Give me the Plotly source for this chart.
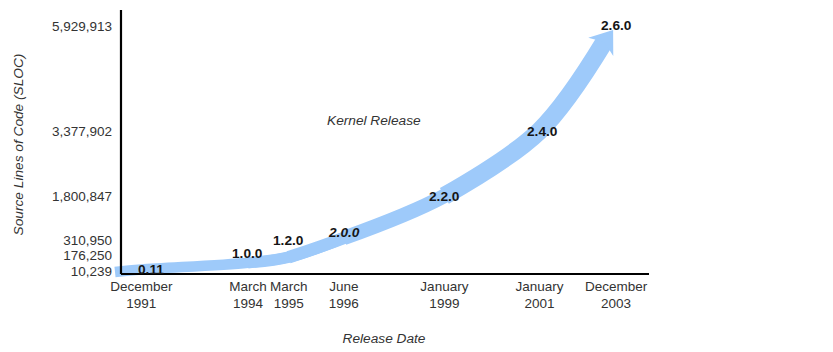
import math
import plotly.graph_objects as go

# ---- data ----
releases = ["0.11", "1.0.0", "1.2.0", "2.0.0", "2.2.0", "2.4.0", "2.6.0"]
release_dates = ["December<br>1991", "March<br>1994", "March<br>1995", "June<br>1996",
                 "January<br>1999", "January<br>2001", "December<br>2003"]
# position of each release date along the (schematic, non-linear) time axis
date_pos = [0.51, 3.18, 4.2, 5.58, 8.1, 10.48, 12.4]
sloc = [10239, 176250, 310950, 777956, 1800847, 3377902, 5929913]

# y tick labels (lowest three are spread apart in the original chart)
y_tick_text = ["10,239", "176,250", "310,950", "1,800,847", "3,377,902", "5,929,913"]
y_tick_pos = [-24000, 364000, 729000, 1800847, 3377902, 5929913]

# arrow tail (starts just left of / below the origin)
tail_x, tail_y = -0.15, -50000

# ---- styling / layout ----
FONT = "Liberation Sans, Arial, sans-serif"
ARROW = "rgb(158,202,250)"
W, H = 833, 352
M_L, M_R, M_T, M_B = 113, 178, 8, 71
X_RANGE = [-0.2, 13.375]
Y_RANGE = [-267190, 6364000]
AXIS_Y = -97160          # where the horizontal axis line sits
AXIS_X = 0.0             # where the vertical axis line sits
AXIS_X_END = 13.225
AXIS_Y_TOP = 6315400
HEAD_LEN, HEAD_HALF, HEAD_NOTCH, HEAD_STANDOFF = 21, 15.5, 15, 5   # px

# pixel scale of the axes (to build the arrow head in screen proportions)
kx = (W - M_L - M_R) / (X_RANGE[1] - X_RANGE[0])
ky = (H - M_T - M_B) / (Y_RANGE[1] - Y_RANGE[0])
px0, py0 = date_pos[-2] * kx, sloc[-2] * ky
px1, py1 = date_pos[-1] * kx, sloc[-1] * ky
seg = math.hypot(px1 - px0, py1 - py0)
ux, uy = (px1 - px0) / seg, (py1 - py0) / seg
nx, ny = -uy, ux
tip_px = (px1 - HEAD_STANDOFF * ux, py1 - HEAD_STANDOFF * uy)


def head_pt(back, side):
    return ((tip_px[0] - back * ux + side * nx) / kx,
            (tip_px[1] - back * uy + side * ny) / ky)


tip = head_pt(0, 0)
c1 = head_pt(HEAD_LEN, HEAD_HALF)
notch = head_pt(HEAD_NOTCH, 0)
c2 = head_pt(HEAD_LEN, -HEAD_HALF)

# shaft runs through every release and ends inside the head
arrow_x = [tail_x] + date_pos[:-1] + [notch[0]]
arrow_y = [tail_y] + sloc[:-1] + [notch[1]]

fig = go.Figure()

# tapered shaft: successively wider layers towards the head
layers = [(0, 10.5), (2, 11.5), (3, 12.5), (4, 14.5), (5, 18)]
for start, w in layers:
    fig.add_trace(go.Scatter(
        x=arrow_x[start:], y=arrow_y[start:], mode="lines",
        line=dict(color=ARROW, width=w, shape="spline"),
        hoverinfo="skip", showlegend=False))

# arrow head
fig.add_shape(type="path", xref="x", yref="y", layer="above",
              path=(f"M {tip[0]},{tip[1]} L {c1[0]},{c1[1]} "
                    f"L {notch[0]},{notch[1]} L {c2[0]},{c2[1]} Z"),
              fillcolor=ARROW, line=dict(width=0))

# release labels
label_shift_x = [10, 0, 0, 0, 0, 3, 0]
label_shift_y = [0, 9, 17, 5, -1, -1, 0]
for i, (r, x, y) in enumerate(zip(releases, date_pos, sloc)):
    txt = f"<b><i>{r}</i></b>" if r == "2.0.0" else f"<b>{r}</b>"
    fig.add_annotation(x=x, y=y, text=txt, showarrow=False,
                       xshift=label_shift_x[i], yshift=label_shift_y[i],
                       font=dict(family=FONT, size=13.7, color="#151515"))

fig.add_annotation(x=0.4815, y=0.5897, xref="paper", yref="paper",
                   text="<i>Kernel Release</i>", showarrow=False,
                   font=dict(family=FONT, size=13.7, color="#333333"))

# axis lines
fig.add_shape(type="line", x0=AXIS_X, x1=AXIS_X, y0=AXIS_Y, y1=AXIS_Y_TOP,
              xref="x", yref="y", line=dict(color="black", width=2.2), layer="above")
fig.add_shape(type="line", x0=AXIS_X, x1=AXIS_X_END, y0=AXIS_Y, y1=AXIS_Y,
              xref="x", yref="y", line=dict(color="black", width=2.2), layer="above")

fig.update_layout(
    width=W, height=H,
    margin=dict(l=M_L, r=M_R, t=M_T, b=M_B),
    paper_bgcolor="white", plot_bgcolor="white",
    font=dict(family=FONT, size=13.5, color="#333333"),
    xaxis=dict(range=X_RANGE, tickvals=date_pos, ticktext=release_dates,
               showgrid=False, zeroline=False, showline=False, ticks="",
               ticklabelstandoff=-5,
               tickfont=dict(size=13.5, color="#333333"),
               title=dict(text="<i>Release Date</i>", standoff=23,
                          font=dict(size=13.7, color="#333333"))),
    yaxis=dict(range=Y_RANGE, tickvals=y_tick_pos, ticktext=y_tick_text,
               showgrid=False, zeroline=False, showline=False, ticks="",
               tickfont=dict(size=13.5, color="#333333"),
               title=dict(text="<i>Source Lines of Code (SLOC)</i>", standoff=25,
                          font=dict(size=13.7, color="#333333"))),
)

fig.write_html("out.html")
